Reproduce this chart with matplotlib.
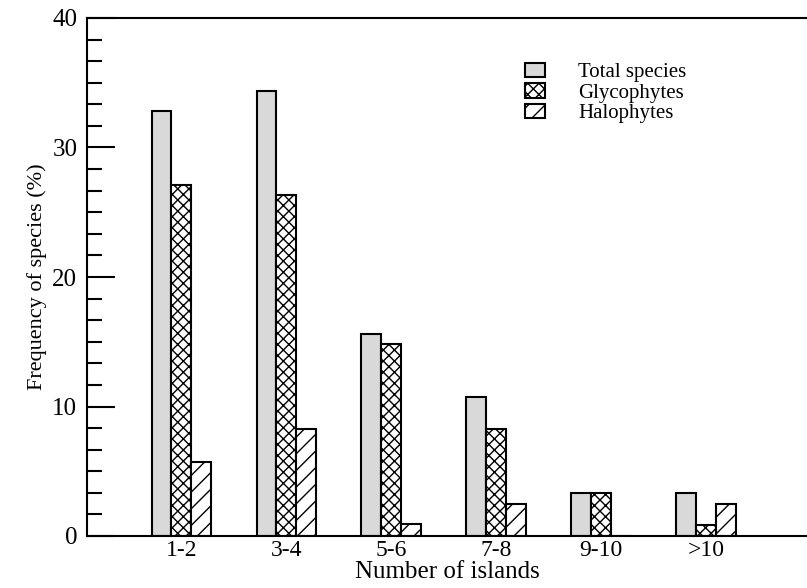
import numpy as np
import matplotlib
matplotlib.use("Agg")
import matplotlib.pyplot as plt
from matplotlib.ticker import MultipleLocator, AutoMinorLocator

plt.rcParams['font.family'] = ['Liberation Serif', 'DejaVu Serif']
plt.rcParams['hatch.linewidth'] = 1.0

categories = ['1-2', '3-4', '5-6', '7-8', '9-10', '>10']
total = [32.8, 34.4, 15.6, 10.7, 3.3, 3.3]
glyco = [27.1, 26.3, 14.8, 8.3, 3.3, 0.85]
halo = [5.7, 8.3, 0.9, 2.5, 0.0, 2.5]

fig = plt.figure(figsize=(8.07, 5.88), dpi=100)
ax = fig.add_axes([87/807, 52/588, 720/807, 518/588])

x = np.arange(len(categories))
w = 0.19
kw = dict(edgecolor='black', linewidth=1.5)
ax.bar(x - w, total, w, color='#d9d9d9', label='Total species', **kw)
ax.bar(x, glyco, w, color='white', hatch='xxx', label='Glycophytes', **kw)
ax.bar(x + w, halo, w, color='white', hatch='//', label='Halophytes', **kw)

ax.set_xlim(-0.9, 5.96)
ax.set_ylim(0, 40)
ax.set_xticks(x)
ax.set_xticklabels(categories, fontsize=17)
ax.tick_params(axis='x', length=0, pad=3)
ax.yaxis.set_major_locator(MultipleLocator(10))
ax.yaxis.set_minor_locator(AutoMinorLocator(6))
ax.tick_params(axis='y', which='major', direction='in', length=20, width=1.5, labelsize=18, pad=7)
ax.tick_params(axis='y', which='minor', direction='in', length=11, width=1.5)
ax.spines['right'].set_visible(False)
for s in ['left', 'top', 'bottom']:
    ax.spines[s].set_linewidth(1.5)

ax.set_xlabel('Number of islands', fontsize=18, labelpad=0)
ax.set_ylabel('Frequency of species (%)', fontsize=16, labelpad=4)

ax.legend(loc='upper left', bbox_to_anchor=(0.582, 0.95), frameon=False, fontsize=15,
          handlelength=0.95, handleheight=0.7, handletextpad=1.6, labelspacing=0.05)

fig.savefig('out.png', dpi=100)
